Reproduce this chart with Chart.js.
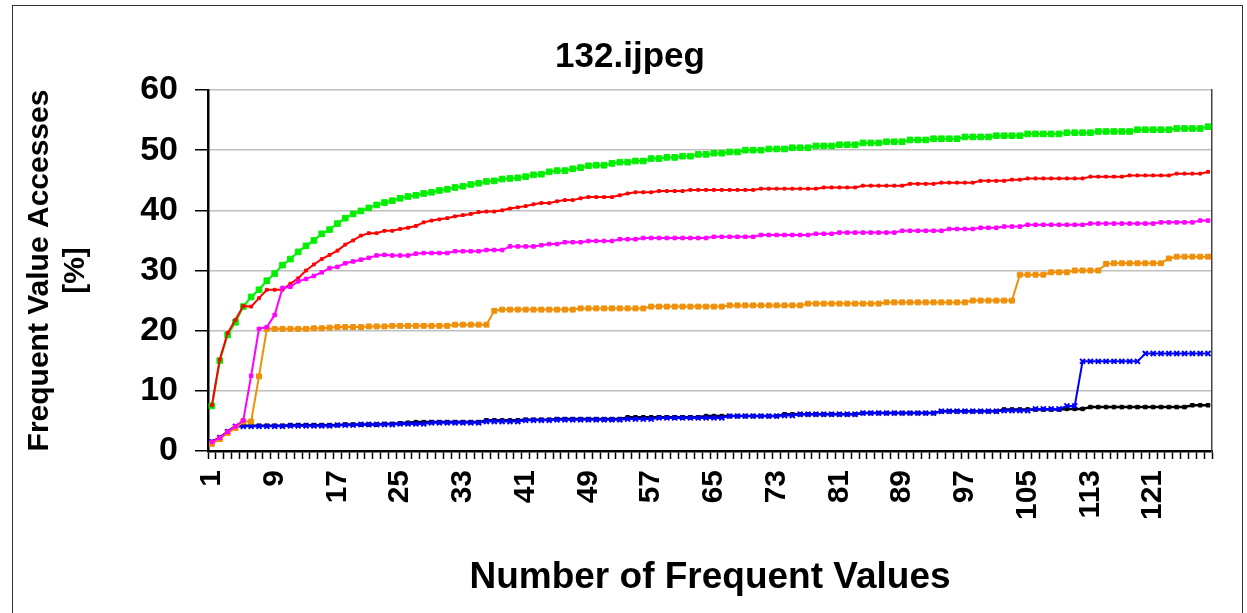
<!DOCTYPE html>
<html>
<head>
<meta charset="utf-8">
<script src="https://cdn.jsdelivr.net/npm/chart.js@4.4.1/dist/chart.umd.min.js"></script>
<style>
  html, body { margin: 0; padding: 0; background: #fff; }
  #wrap { position: absolute; left: 0; top: 0; width: 1247px; height: 613px; }
  #frame { position: absolute; left: 12px; top: 5px; width: 1229px; height: 640px; border: 1.5px solid #333; pointer-events: none; }
</style>
</head>
<body>
<div id="wrap"><canvas id="chart"></canvas></div>
<div id="frame"></div>
<script>
// x categories: 1..128 frequent values, only every 8th is labelled
var categories = Array.from({length: 128}, function(_, i){ return i + 1; });
var tickLabels = ['1','9','17','25','33','41','49','57','65','73','81','89','97','105','113','121'];
var yTicks = [0, 10, 20, 30, 40, 50, 60];

var greenVals = [
  7.5, 15.0, 19.3, 21.4, 24.0, 25.6, 26.8, 28.3,
  29.5, 30.9, 31.9, 33.1, 34.1, 35.0, 36.1, 36.8,
  37.8, 38.7, 39.4, 39.9, 40.4, 40.9, 41.3, 41.6,
  42.0, 42.3, 42.5, 42.8, 43.0, 43.3, 43.5, 43.8,
  44.0, 44.3, 44.5, 44.8, 44.9, 45.2, 45.3, 45.4,
  45.6, 45.9, 46.0, 46.4, 46.6, 46.6, 46.9, 47.1,
  47.4, 47.5, 47.5, 47.8, 48.0, 48.0, 48.2, 48.2,
  48.6, 48.6, 48.8, 48.8, 49.0, 49.0, 49.3, 49.3,
  49.5, 49.5, 49.7, 49.7, 50.0, 50.0, 50.0, 50.2,
  50.2, 50.2, 50.4, 50.4, 50.4, 50.7, 50.7, 50.7,
  50.9, 50.9, 50.9, 51.2, 51.2, 51.2, 51.4, 51.4,
  51.4, 51.7, 51.7, 51.7, 51.9, 51.9, 51.9, 51.9,
  52.2, 52.2, 52.2, 52.2, 52.4, 52.4, 52.4, 52.4,
  52.7, 52.7, 52.7, 52.7, 52.7, 52.9, 52.9, 52.9,
  52.9, 53.1, 53.1, 53.1, 53.1, 53.1, 53.4, 53.4,
  53.4, 53.4, 53.4, 53.6, 53.6, 53.6, 53.6, 53.9
];
var redVals = [
  7.6, 15.2, 19.6, 21.8, 24.1, 24.0, 25.4, 26.8,
  26.8, 26.8, 27.8, 28.7, 30.0, 31.0, 31.9, 32.6,
  33.3, 34.3, 35.0, 35.8, 36.2, 36.2, 36.6, 36.6,
  36.9, 37.1, 37.4, 38.0, 38.3, 38.5, 38.7, 39.0,
  39.2, 39.4, 39.7, 39.8, 39.8, 40.0, 40.3, 40.5,
  40.7, 41.0, 41.2, 41.2, 41.5, 41.7, 41.7, 42.0,
  42.2, 42.2, 42.2, 42.2, 42.5, 42.8, 43.0, 43.0,
  43.0, 43.2, 43.2, 43.2, 43.2, 43.4, 43.4, 43.4,
  43.4, 43.4, 43.4, 43.4, 43.4, 43.4, 43.6, 43.6,
  43.6, 43.6, 43.6, 43.6, 43.6, 43.6, 43.8, 43.8,
  43.8, 43.8, 43.8, 44.1, 44.1, 44.1, 44.1, 44.1,
  44.1, 44.4, 44.4, 44.4, 44.4, 44.6, 44.6, 44.6,
  44.6, 44.6, 44.9, 44.9, 44.9, 44.9, 45.1, 45.1,
  45.3, 45.3, 45.3, 45.3, 45.3, 45.3, 45.3, 45.3,
  45.6, 45.6, 45.6, 45.6, 45.6, 45.8, 45.8, 45.8,
  45.8, 45.8, 45.8, 46.1, 46.1, 46.1, 46.1, 46.4
];
var magentaVals = [
  1.5, 2.2, 3.2, 4.1, 5.1, 12.5, 20.3, 20.6,
  22.6, 27.1, 27.3, 28.2, 28.6, 29.1, 29.7, 30.4,
  30.6, 31.2, 31.5, 31.8, 32.1, 32.5, 32.6, 32.5,
  32.5, 32.5, 32.8, 32.9, 32.9, 32.9, 32.9, 33.2,
  33.2, 33.2, 33.2, 33.4, 33.4, 33.4, 34.0, 34.0,
  34.0, 34.0, 34.2, 34.4, 34.4, 34.7, 34.7, 34.7,
  34.9, 34.9, 34.9, 34.9, 35.2, 35.2, 35.2, 35.4,
  35.4, 35.4, 35.4, 35.4, 35.4, 35.4, 35.4, 35.4,
  35.6, 35.6, 35.6, 35.6, 35.6, 35.6, 35.9, 35.9,
  35.9, 35.9, 35.9, 35.9, 35.9, 36.1, 36.1, 36.1,
  36.3, 36.3, 36.3, 36.3, 36.3, 36.3, 36.3, 36.3,
  36.6, 36.6, 36.6, 36.6, 36.6, 36.6, 36.9, 36.9,
  36.9, 36.9, 37.1, 37.1, 37.1, 37.3, 37.3, 37.3,
  37.6, 37.6, 37.6, 37.6, 37.6, 37.6, 37.6, 37.6,
  37.8, 37.8, 37.8, 37.8, 37.8, 37.8, 37.8, 37.8,
  37.8, 38.0, 38.0, 38.0, 38.0, 38.0, 38.3, 38.3
];
var orangeVals = [
  1.2, 2.0, 3.0, 3.8, 4.9, 4.9, 12.4, 20.3,
  20.3, 20.3, 20.3, 20.3, 20.3, 20.4, 20.4, 20.5,
  20.6, 20.6, 20.6, 20.6, 20.7, 20.7, 20.7, 20.8,
  20.8, 20.8, 20.8, 20.8, 20.8, 20.8, 20.8, 21.0,
  21.0, 21.0, 21.0, 21.0, 23.3, 23.5, 23.5, 23.5,
  23.5, 23.5, 23.5, 23.5, 23.5, 23.5, 23.5, 23.7,
  23.7, 23.7, 23.7, 23.7, 23.7, 23.7, 23.7, 23.7,
  24.0, 24.0, 24.0, 24.0, 24.0, 24.0, 24.0, 24.0,
  24.0, 24.0, 24.2, 24.2, 24.2, 24.2, 24.2, 24.2,
  24.2, 24.2, 24.2, 24.2, 24.5, 24.5, 24.5, 24.5,
  24.5, 24.5, 24.5, 24.5, 24.5, 24.5, 24.7, 24.7,
  24.7, 24.7, 24.7, 24.7, 24.7, 24.7, 24.7, 24.7,
  24.7, 25.0, 25.0, 25.0, 25.0, 25.0, 25.0, 29.3,
  29.3, 29.3, 29.3, 29.7, 29.7, 29.7, 30.0, 30.0,
  30.0, 30.0, 31.1, 31.2, 31.2, 31.2, 31.2, 31.2,
  31.2, 31.2, 32.0, 32.3, 32.3, 32.3, 32.3, 32.3
];
var blueVals = [
  1.5, 2.2, 3.2, 4.1, 4.1, 4.1, 4.1, 4.1,
  4.1, 4.1, 4.2, 4.2, 4.2, 4.2, 4.2, 4.2,
  4.3, 4.3, 4.3, 4.4, 4.4, 4.4, 4.4, 4.4,
  4.5, 4.5, 4.5, 4.5, 4.7, 4.7, 4.7, 4.7,
  4.7, 4.7, 4.7, 4.9, 4.9, 4.9, 4.9, 4.9,
  5.1, 5.1, 5.1, 5.1, 5.2, 5.2, 5.2, 5.2,
  5.2, 5.2, 5.2, 5.2, 5.2, 5.3, 5.3, 5.3,
  5.3, 5.5, 5.5, 5.5, 5.5, 5.5, 5.5, 5.5,
  5.5, 5.5, 5.8, 5.8, 5.8, 5.8, 5.8, 5.8,
  5.8, 5.9, 5.9, 6.1, 6.1, 6.1, 6.1, 6.1,
  6.1, 6.1, 6.1, 6.3, 6.3, 6.3, 6.3, 6.3,
  6.3, 6.3, 6.3, 6.3, 6.3, 6.6, 6.6, 6.6,
  6.6, 6.6, 6.6, 6.6, 6.6, 6.7, 6.7, 6.7,
  6.7, 7.0, 7.0, 7.0, 7.0, 7.5, 7.5, 14.9,
  14.9, 14.9, 14.9, 14.9, 14.9, 14.9, 14.9, 16.2,
  16.2, 16.2, 16.2, 16.2, 16.2, 16.2, 16.2, 16.2
];
var blackVals = [
  1.5, 2.2, 3.2, 4.1, 4.2, 4.2, 4.2, 4.2,
  4.2, 4.2, 4.3, 4.3, 4.3, 4.3, 4.3, 4.3,
  4.3, 4.4, 4.4, 4.4, 4.4, 4.4, 4.5, 4.5,
  4.6, 4.7, 4.8, 4.8, 4.8, 4.8, 4.8, 4.8,
  4.8, 4.8, 4.8, 5.1, 5.1, 5.1, 5.1, 5.1,
  5.2, 5.2, 5.2, 5.2, 5.3, 5.3, 5.3, 5.3,
  5.3, 5.3, 5.3, 5.3, 5.3, 5.6, 5.6, 5.6,
  5.6, 5.6, 5.6, 5.6, 5.6, 5.6, 5.6, 5.8,
  5.8, 5.8, 5.8, 5.8, 5.8, 5.8, 5.8, 5.8,
  5.8, 6.1, 6.1, 6.1, 6.1, 6.1, 6.1, 6.1,
  6.1, 6.1, 6.1, 6.3, 6.3, 6.3, 6.3, 6.3,
  6.3, 6.3, 6.3, 6.3, 6.3, 6.6, 6.6, 6.6,
  6.6, 6.6, 6.6, 6.6, 6.6, 6.9, 6.9, 6.9,
  6.9, 6.9, 6.9, 6.9, 6.9, 7.0, 7.0, 7.0,
  7.3, 7.3, 7.3, 7.3, 7.3, 7.3, 7.3, 7.3,
  7.3, 7.3, 7.3, 7.3, 7.3, 7.6, 7.6, 7.6
];

function series(data, color, style, radius, width){
  return {
    data: data,
    borderColor: color,
    backgroundColor: color,
    pointBackgroundColor: color,
    pointBorderColor: color,
    pointStyle: style,
    pointRadius: radius,
    pointBorderWidth: style === 'crossRot' ? 2 : 1,
    borderWidth: width,
    tension: 0,
    fill: false
  };
}

var fontFam = "'Liberation Sans', Arial, sans-serif";

var ctx = document.getElementById('chart').getContext('2d');
new Chart(ctx, {
  type: 'line',
  data: {
    labels: categories,
    // first dataset is drawn on top
    datasets: [
      series(magentaVals, '#ff00ff', 'rect', 2.5, 2),
      series(redVals, '#ff0000', 'rect', 2, 2),
      series(greenVals, '#00f000', 'rect', 4, 2),
      series(orangeVals, '#f0900a', 'rect', 3.5, 2),
      series(blueVals, '#0000ff', 'crossRot', 3.5, 2),
      series(blackVals, '#000000', 'rect', 2.5, 2.5)
    ]
  },
  options: {
    responsive: true,
    maintainAspectRatio: false,
    animation: false,
    // left padding is wider so the title sits a bit right of centre
    layout: { padding: { left: 48, right: 35, top: 0, bottom: 0 } },
    plugins: {
      legend: { display: false },
      tooltip: { enabled: false },
      title: {
        display: true,
        text: '132.ijpeg',
        color: '#000',
        font: { family: fontFam, size: 35, weight: 'bold', lineHeight: 1.2 },
        padding: { top: 36, bottom: 12 }
      }
    },
    scales: {
      x: {
        type: 'category',
        offset: true,
        grid: {
          display: true,
          offset: true,
          drawOnChartArea: false,
          drawTicks: true,
          tickLength: 8,
          tickColor: '#000',
          tickWidth: 1.5
        },
        border: { display: true, color: '#000', width: 2.5 },
        ticks: {
          autoSkip: false,
          maxRotation: 90,
          minRotation: 90,
          padding: 11,
          color: '#000',
          font: { family: fontFam, size: 30, weight: 'bold' },
          callback: function(val, idx){
            var s = String(categories[idx]);
            return tickLabels.indexOf(s) >= 0 ? s : '';
          }
        },
        title: {
          display: true,
          text: 'Number of Frequent Values',
          color: '#000',
          font: { family: fontFam, size: 37, weight: 'bold', lineHeight: 1.2 },
          padding: { top: 0, bottom: 13 }
        },
        afterFit: function(s){
          s.height = 162;
          s.paddingLeft = 0;
          s.paddingRight = 0;
        }
      },
      y: {
        min: 0,
        max: 60,
        afterBuildTicks: function(s){
          s.ticks = yTicks.map(function(v){ return { value: v }; });
        },
        grid: {
          color: '#c0c0c0',
          lineWidth: 1.5,
          tickColor: '#000',
          tickLength: 13,
          tickWidth: 1.5
        },
        border: { display: true, color: '#000', width: 2.5 },
        ticks: {
          padding: 17,
          color: '#000',
          font: { family: fontFam, size: 34, weight: 'bold' }
        },
        title: {
          display: true,
          text: ['Frequent Value Accesses', '[%]'],
          color: '#000',
          font: { family: fontFam, size: 30, weight: 'bold', lineHeight: 1.2 },
          padding: { top: -26, bottom: 0 }
        },
        afterFit: function(s){ s.width = 160; }
      },
      y2: {
        position: 'right',
        min: 0,
        max: 60,
        grid: { display: false },
        ticks: { display: false },
        border: { display: true, color: '#444', width: 1.5 },
        afterFit: function(s){ s.width = 0; }
      }
    }
  }
});
</script>
</body>
</html>
